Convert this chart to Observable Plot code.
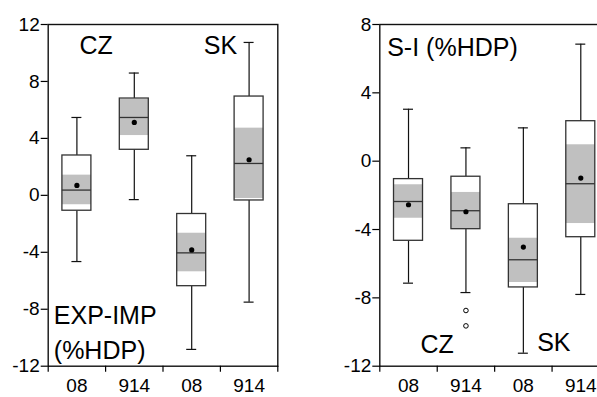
<!DOCTYPE html>
<html>
<head>
<meta charset="utf-8">
<script src="https://cdn.jsdelivr.net/npm/d3@7"></script>
<script src="https://cdn.jsdelivr.net/npm/@observablehq/plot@0.6"></script>
<style>
  html, body { margin: 0; padding: 0; background: #fff; }
  #wrap { position: relative; width: 597px; height: 397px; overflow: hidden; display: flex; }
  #wrap svg { flex: none; }
</style>
</head>
<body>
<div id="wrap"></div>
<script>
// Category tick labels (CZ 08, CZ 914, SK 08, SK 914)
const cats = ["08", "914", "08", "914"];

// Panel 1: EXP-IMP (%HDP)
const expWhiskerHi = [5.47, 8.59, 2.78, 10.74];
const expQ3        = [2.8, 6.8, -1.31, 6.94];
const expCiHi      = [1.42, 6.73, -2.66, 4.72];
const expMedian    = [0.37, 5.47, -4.04, 2.24];
const expMean      = [0.7, 5.12, -3.83, 2.5];
const expCiLo      = [-0.66, 4.2, -5.37, -0.22];
const expQ1        = [-1.08, 3.2, -6.38, -0.36];
const expWhiskerLo = [-4.65, -0.3, -10.82, -7.5];
const expOutlierCat = [];
const expOutlierVal = [];
const expTicks = [-12, -8, -4, 0, 4, 8, 12];

// Panel 2: S-I (%HDP)
const siWhiskerHi = [3.04, 0.78, 1.95, 6.85];
const siQ3        = [-1.05, -0.91, -2.52, 2.34];
const siCiHi      = [-1.38, -1.83, -4.51, 0.96];
const siMedian    = [-2.36, -2.9, -5.77, -1.32];
const siMean      = [-2.55, -2.96, -5.03, -0.99];
const siCiLo      = [-3.34, -3.98, -7.1, -3.65];
const siQ1        = [-4.66, -3.98, -7.39, -4.45];
const siWhiskerLo = [-7.14, -7.69, -11.24, -7.8];
const siOutlierCat = [1, 1];
const siOutlierVal = [-8.74, -9.64];
const siTicks = [-12, -8, -4, 0, 4, 8];

const FONT = "'Liberation Sans', Arial, Helvetica, sans-serif";

function boxPanel(opts) {
  const rows = cats.map((c, i) => ({
    i, cat: c,
    hi: opts.hi[i], q3: opts.q3[i], ciHi: opts.ciHi[i], med: opts.med[i],
    mean: opts.mean[i], ciLo: opts.ciLo[i], q1: opts.q1[i], lo: opts.lo[i]
  }));
  const outs = opts.outCat.map((c, k) => ({i: c, v: opts.outVal[k]}));
  const half = 0.2525, cap = 0.087;
  return Plot.plot({
    width: opts.width, height: 397,
    marginLeft: opts.ml, marginRight: opts.mr, marginTop: 24, marginBottom: 31.3,
    style: {fontFamily: FONT, fontSize: "19px", color: "#000", background: "transparent", overflow: "visible"},
    x: {domain: [0, 4], axis: null},
    y: {domain: opts.domain, axis: null},
    marks: [
      // whiskers
      Plot.ruleX(rows, {x: d => d.i + 0.5, y1: "q3", y2: "hi", stroke: "#111", strokeWidth: 1.2}),
      Plot.ruleX(rows, {x: d => d.i + 0.5, y1: "q1", y2: "lo", stroke: "#111", strokeWidth: 1.2}),
      Plot.ruleY(rows, {y: "hi", x1: d => d.i + 0.5 - cap, x2: d => d.i + 0.5 + cap, stroke: "#111", strokeWidth: 1.2}),
      Plot.ruleY(rows, {y: "lo", x1: d => d.i + 0.5 - cap, x2: d => d.i + 0.5 + cap, stroke: "#111", strokeWidth: 1.2}),
      // box background
      Plot.rect(rows, {x1: d => d.i + 0.5 - half, x2: d => d.i + 0.5 + half, y1: "q1", y2: "q3", fill: "#fff"}),
      // confidence band
      Plot.rect(rows, {x1: d => d.i + 0.5 - half, x2: d => d.i + 0.5 + half, y1: "ciLo", y2: "ciHi", fill: "#c0c0c0"}),
      // box outline
      Plot.rect(rows, {x1: d => d.i + 0.5 - half, x2: d => d.i + 0.5 + half, y1: "q1", y2: "q3", fill: "none", stroke: "#333", strokeWidth: 1.3}),
      // median
      Plot.ruleY(rows, {y: "med", x1: d => d.i + 0.5 - half, x2: d => d.i + 0.5 + half, stroke: "#333", strokeWidth: 1.3}),
      // mean
      Plot.dot(rows, {x: d => d.i + 0.5, y: "mean", r: 2.6, fill: "#000", stroke: "none"}),
      // outliers
      Plot.dot(outs, {x: d => d.i + 0.5, y: "v", r: 2.3, fill: "#fff", stroke: "#000", strokeWidth: 1}),
      // frame
      Plot.frame({stroke: "#111", strokeWidth: 1.4}),
      // axes
      Plot.axisY({ticks: opts.ticks, tickSize: 7, tickPadding: 1.5, tickFormat: d => String(d), fontSize: 19, strokeWidth: 1.2}),
      Plot.axisX({ticks: [0, 1, 2, 3, 4], tickSize: 6, tickFormat: () => "", strokeWidth: 1.2}),
      Plot.axisX({ticks: [0.5, 1.5, 2.5, 3.5], tickSize: 0, tickPadding: 12, tickFormat: d => cats[Math.floor(d)], fontSize: 19}),
      // annotations
      ...opts.labels.map(l => Plot.text([l.t], {
        text: d => d, frameAnchor: l.anchor, textAnchor: "start", lineAnchor: "bottom",
        dx: l.dx, dy: l.dy, fontSize: 25, lineHeight: 1.4, fill: "#000"
      }))
    ]
  });
}

const wrap = document.getElementById("wrap");

wrap.appendChild(boxPanel({
  width: 300, ml: 47.7, mr: 22.7, domain: [-12, 12], ticks: expTicks,
  hi: expWhiskerHi, q3: expQ3, ciHi: expCiHi, med: expMedian, mean: expMean,
  ciLo: expCiLo, q1: expQ1, lo: expWhiskerLo, outCat: expOutlierCat, outVal: expOutlierVal,
  labels: [
    {t: "CZ", anchor: "top-left", dx: 31.3, dy: 29},
    {t: "SK", anchor: "top-left", dx: 155.6, dy: 29},
    {t: "EXP-IMP\n(%HDP)", anchor: "bottom-left", dx: 5.6, dy: -7.4}
  ]
}));

wrap.appendChild(boxPanel({
  width: 320, ml: 79.3, mr: 11, domain: [-12, 8], ticks: siTicks,
  hi: siWhiskerHi, q3: siQ3, ciHi: siCiHi, med: siMedian, mean: siMean,
  ciLo: siCiLo, q1: siQ1, lo: siWhiskerLo, outCat: siOutlierCat, outVal: siOutlierVal,
  labels: [
    {t: "S-I (%HDP)", anchor: "top-left", dx: 7.4, dy: 31},
    {t: "CZ", anchor: "bottom-left", dx: 40.7, dy: -13},
    {t: "SK", anchor: "bottom-left", dx: 157.4, dy: -15}
  ]
}));
</script>
</body>
</html>
